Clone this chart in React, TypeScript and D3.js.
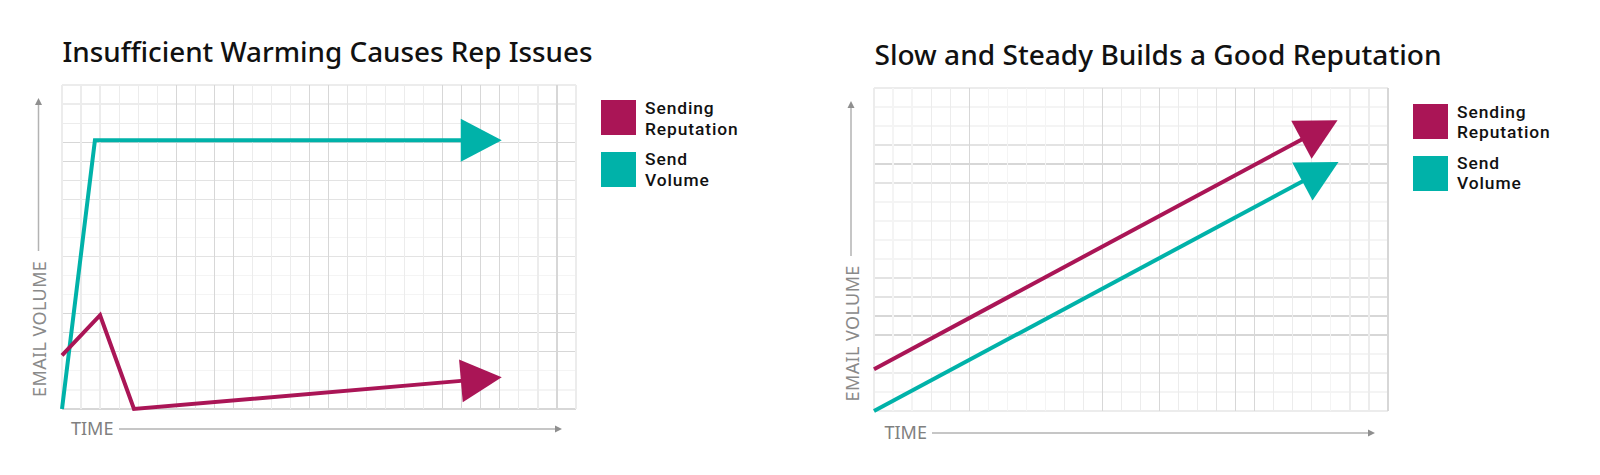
import React from 'react';
import * as d3 from 'd3';

// ---------- text ----------
const leftTitle = 'Insufficient Warming Causes Rep Issues';
const rightTitle = 'Slow and Steady Builds a Good Reputation';
const yAxisLabel = 'EMAIL VOLUME';
const xAxisLabel = 'TIME';
const legendLabels: string[][] = [
  ['Sending', 'Reputation'],
  ['Send', 'Volume'],
];

// ---------- data (grid units: time 0..27, volume 0..17) ----------
const warmRepTime = [0, 2.0, 3.78, 23.1];
const warmRepValue = [2.82, 4.92, 0, 1.66];
const warmVolTime = [0, 1.73, 23.1];
const warmVolValue = [0, 14.1, 14.1];

const steadyRepTime = [0, 24.35];
const steadyRepValue = [2.2, 15.3];
const steadyVolTime = [0, 24.4];
const steadyVolValue = [0, 13.1];

const timeDomain = [0, 27];
const volumeDomain = [0, 17];

// ---------- styles ----------
const MAGENTA = '#aa1556';
const TEAL = '#00b2a9';
const FONT = "'Noto Sans', 'Open Sans', sans-serif";
const LEGEND_FONT = "Roboto, 'Noto Sans', sans-serif";
const GRID_COLORS = ['#f4f4f4', '#ececec', '#e3e3e3', '#d7d7d7'];

// grid line strength patterns (decorative background)
const leftVLevels = [1, 1, 1, 1, 1, 1, 3, 2, 3, 3, 1, 1, 1, 3, 3, 2, 1, 1, 1, 1, 3, 3, 3, 3, 1, 1, 3, 1];
const leftHLevels = [1, 1, 1, 3, 3, 2, 2, 0, 0, 2, 0, 0, 3, 3, 3, 0, 0, 3];
const rightVLevels = [1, 0, 0, 1, 1, 3, 0, 0, 0, 0, 1, 1, 3, 1, 1, 3, 1, 1, 2, 3, 3, 1, 1, 1, 0, 1, 1, 3];
const rightHLevels = [1, 0, 0, 2, 3, 2, 0, 0, 0, 0, 2, 2, 3, 3, 0, 1, 0, 1];

type Series = { times: number[]; values: number[]; color: string };

type PanelProps = {
  title: string;
  titleX: number;
  titleBaseline: number;
  titleWidth: number;
  gx0: number;
  gx1: number;
  gyTop: number;
  gyBottom: number;
  vLevels: number[];
  hLevels: number[];
  series: Series[];
  yAxisX: number;
  yArrowTip: number;
  yLineBottom: number;
  yTextBaselineX: number;
  yTextBottom: number;
  xTextX: number;
  xTextBaseline: number;
  xLineY: number;
  xLine0: number;
  xLine1: number;
  legendX: number;
  legendTops: number[];
  legendBaselines: number[];
};

function arrowGeometry(pts: [number, number][]) {
  const n = pts.length;
  const [tx, ty] = pts[n - 1];
  const [px, py] = pts[n - 2];
  const dx = tx - px;
  const dy = ty - py;
  const len = Math.hypot(dx, dy);
  const ux = dx / len;
  const uy = dy / len;
  const L = 41;
  const W = 21.5;
  const bx = tx - ux * L;
  const by = ty - uy * L;
  const linePts: [number, number][] = [...pts.slice(0, n - 1), [bx + ux * 3, by + uy * 3]];
  const tri: [number, number][] = [
    [tx, ty],
    [bx - uy * W, by + ux * W],
    [bx + uy * W, by - ux * W],
  ];
  return { linePts, tri };
}

function Panel(p: PanelProps) {
  const x = d3.scaleLinear().domain(timeDomain).range([p.gx0, p.gx1]);
  const y = d3.scaleLinear().domain(volumeDomain).range([p.gyBottom, p.gyTop]);
  const line = d3.line<[number, number]>().x((d) => d[0]).y((d) => d[1]);
  const vTicks = d3.range(timeDomain[0], timeDomain[1] + 1);
  const hTicks = d3.range(volumeDomain[1], volumeDomain[0] - 1, -1);

  const order = (arr: number[]) =>
    arr.map((_, i) => i).sort((a, b) => arr[a] - arr[b]);

  return (
    <g>
      <text
        x={p.titleX}
        y={p.titleBaseline}
        fontFamily={FONT}
        fontSize={27}
        fontWeight={500}
        fill="#111"
        textLength={p.titleWidth}
        lengthAdjust="spacingAndGlyphs"
      >
        {p.title}
      </text>

      {/* grid */}
      <g shapeRendering="crispEdges">
        {order(hTicks.map((_, i) => p.hLevels[i])).map((i) => (
          <line
            key={'h' + i}
            x1={p.gx0}
            x2={p.gx1}
            y1={y(hTicks[i])}
            y2={y(hTicks[i])}
            stroke={GRID_COLORS[p.hLevels[i]]}
            strokeWidth={1.2}
          />
        ))}
        {order(vTicks.map((_, i) => p.vLevels[i])).map((i) => (
          <line
            key={'v' + i}
            x1={x(vTicks[i])}
            x2={x(vTicks[i])}
            y1={p.gyTop}
            y2={p.gyBottom}
            stroke={GRID_COLORS[p.vLevels[i]]}
            strokeWidth={1.2}
          />
        ))}
      </g>

      {/* y axis */}
      <line x1={p.yAxisX} x2={p.yAxisX} y1={p.yArrowTip + 5} y2={p.yLineBottom} stroke="#b3b3b3" strokeWidth={1.5} />
      <path
        d={`M${p.yAxisX},${p.yArrowTip} L${p.yAxisX - 3.5},${p.yArrowTip + 7} L${p.yAxisX + 3.5},${p.yArrowTip + 7} Z`}
        fill="#8f8f8f"
      />
      <text
        transform={`translate(${p.yTextBaselineX},${p.yTextBottom}) rotate(-90)`}
        fontFamily={FONT}
        fontSize={18}
        fill="#8a8a8a"
        letterSpacing={0.4}
      >
        {yAxisLabel}
      </text>

      {/* x axis */}
      <text x={p.xTextX} y={p.xTextBaseline} fontFamily={FONT} fontSize={18} fill="#808080">
        {xAxisLabel}
      </text>
      <line x1={p.xLine0} x2={p.xLine1 - 5} y1={p.xLineY} y2={p.xLineY} stroke="#b3b3b3" strokeWidth={1.5} />
      <path
        d={`M${p.xLine1},${p.xLineY} L${p.xLine1 - 7},${p.xLineY - 3.5} L${p.xLine1 - 7},${p.xLineY + 3.5} Z`}
        fill="#8f8f8f"
      />

      {/* series */}
      {p.series.map((s, si) => {
        const pts: [number, number][] = s.times.map((t, i) => [x(t), y(s.values[i])]);
        const { linePts, tri } = arrowGeometry(pts);
        return (
          <g key={si}>
            <path
              d={line(linePts) || ''}
              fill="none"
              stroke={s.color}
              strokeWidth={4}
              strokeLinejoin="miter"
            />
            <path d={line(tri) + 'Z'} fill={s.color} />
          </g>
        );
      })}

      {/* legend */}
      {[MAGENTA, TEAL].map((c, i) => (
        <g key={'lg' + i}>
          <rect x={p.legendX} y={p.legendTops[i]} width={35} height={35} fill={c} />
          {legendLabels[i].map((t, j) => (
            <text
              key={j}
              x={p.legendX + 44}
              y={p.legendBaselines[i] + j * 20.5}
              fontFamily={LEGEND_FONT}
              fontSize={17.4}
              fontWeight={500}
              letterSpacing={0.9}
              fill="#111"
            >
              {t}
            </text>
          ))}
        </g>
      ))}
    </g>
  );
}

export default function App() {
  return (
    <svg
      width={1600}
      height={475}
      style={{ position: 'absolute', left: 0, top: 0, background: '#fff' }}
    >
      <rect x={0} y={0} width={1600} height={475} fill="#fff" />
      <Panel
        title={leftTitle}
        titleX={62.5}
        titleBaseline={62}
        titleWidth={530}
        gx0={62}
        gx1={576}
        gyTop={85}
        gyBottom={409}
        vLevels={leftVLevels}
        hLevels={leftHLevels}
        series={[
          { times: warmVolTime, values: warmVolValue, color: TEAL },
          { times: warmRepTime, values: warmRepValue, color: MAGENTA },
        ]}
        yAxisX={38.5}
        yArrowTip={98}
        yLineBottom={251}
        yTextBaselineX={45.5}
        yTextBottom={397}
        xTextX={71}
        xTextBaseline={434.5}
        xLineY={429}
        xLine0={119}
        xLine1={562}
        legendX={601}
        legendTops={[100, 152]}
        legendBaselines={[114, 165]}
      />
      <Panel
        title={rightTitle}
        titleX={874.5}
        titleBaseline={65}
        titleWidth={567}
        gx0={874}
        gx1={1388}
        gyTop={88}
        gyBottom={411}
        vLevels={rightVLevels}
        hLevels={rightHLevels}
        series={[
          { times: steadyRepTime, values: steadyRepValue, color: MAGENTA },
          { times: steadyVolTime, values: steadyVolValue, color: TEAL },
        ]}
        yAxisX={851}
        yArrowTip={101}
        yLineBottom={256}
        yTextBaselineX={858.5}
        yTextBottom={401.5}
        xTextX={884.5}
        xTextBaseline={439}
        xLineY={433}
        xLine0={932}
        xLine1={1375}
        legendX={1413}
        legendTops={[104, 156]}
        legendBaselines={[117.5, 168.5]}
      />
    </svg>
  );
}
